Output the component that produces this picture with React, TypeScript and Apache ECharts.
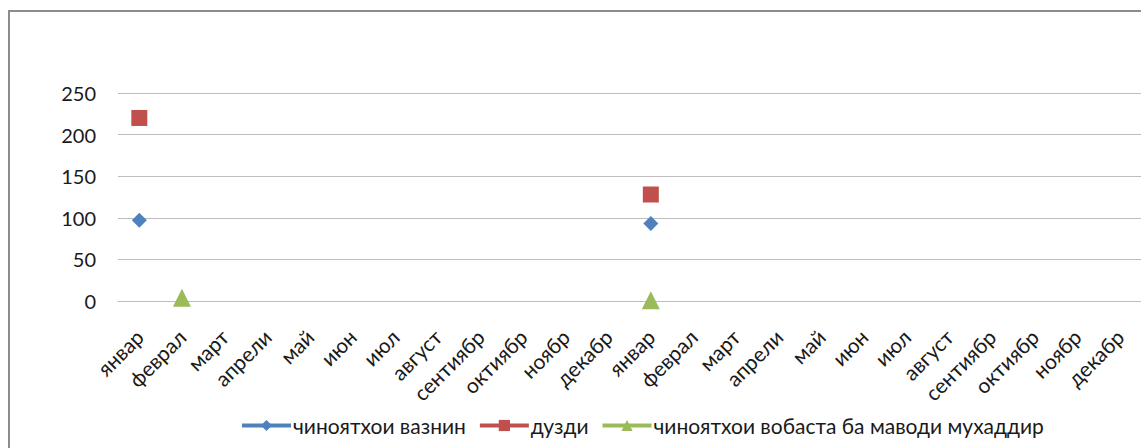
import React, { useEffect, useRef } from "react";
import * as echarts from "echarts";

const months = ["январ", "феврал", "март", "апрели", "май", "июн", "июл", "август", "сентиябр", "октиябр", "ноябр", "декабр"];
const categories = [...months, ...months];
const seriesNames = ["чиноятхои вазнин", "дузди", "чиноятхои вобаста ба маводи мухаддир"];
const seriesColors = ["#4F81BD", "#C0504D", "#9BBB59"];
const seriesSymbols = ["diamond", "rect", "triangle"];
const seriesSymbolSizes = [15, 16, 18];
const heavyCrimes = [97, null, null, null, null, null, null, null, null, null, null, null, 93, null, null, null, null, null, null, null, null, null, null, null];
const theft = [220, null, null, null, null, null, null, null, null, null, null, null, 128, null, null, null, null, null, null, null, null, null, null, null];
const drugCrimes = [null, 4, null, null, null, null, null, null, null, null, null, null, 1, null, null, null, null, null, null, null, null, null, null, null];
const seriesValues = [heavyCrimes, theft, drugCrimes];
const yTicks = { min: 0, max: 250, interval: 50 };

const FONT = "Lato, 'Noto Sans', sans-serif";

export default function App() {
  const ref = useRef<HTMLDivElement>(null);
  useEffect(() => {
    if (!ref.current) return;
    const chart = echarts.init(ref.current, null, { renderer: "svg" });
    chart.setOption({
      animation: false,
      backgroundColor: "#ffffff",
      textStyle: { fontFamily: FONT },
      graphic: [
        {
          type: "rect",
          shape: { x: 9, y: 11, width: 1200, height: 500 },
          style: { fill: "none", stroke: "#8c8c8c", lineWidth: 2 },
          silent: true,
          z: 0,
        },
      ],
      grid: { left: 118, top: 93, width: 1026, height: 208, containLabel: false },
      legend: {
        bottom: 12,
        left: 240,
        padding: 0,
        itemWidth: 49,
        itemHeight: 14,
        itemGap: 12,
        lineStyle: { width: 4 },
        textStyle: { fontFamily: FONT, fontSize: 21, color: "#1a1a1a", padding: [0, 0, 0, -3] },
        data: seriesNames,
      },
      xAxis: {
        type: "category",
        data: categories,
        boundaryGap: true,
        axisLine: { show: true, lineStyle: { color: "#bdbdbd", width: 1 } },
        axisTick: { show: false },
        axisLabel: {
          interval: 0,
          rotate: 45,
          margin: 32,
          fontFamily: FONT,
          fontSize: 21,
          color: "#1a1a1a",
        },
        splitLine: { show: false },
      },
      yAxis: {
        type: "value",
        min: yTicks.min,
        max: yTicks.max,
        interval: yTicks.interval,
        axisLine: { show: false },
        axisTick: { show: false },
        axisLabel: { margin: 22, fontFamily: FONT, fontSize: 20, color: "#1a1a1a" },
        splitLine: { show: true, lineStyle: { color: "#bdbdbd", width: 1 } },
      },
      series: seriesNames.map((name, i) => ({
        name,
        type: "line",
        data: seriesValues[i],
        connectNulls: false,
        symbol: seriesSymbols[i],
        symbolSize: seriesSymbolSizes[i],
        showSymbol: true,
        itemStyle: { color: seriesColors[i] },
        lineStyle: { color: seriesColors[i], width: 4 },
      })),
    });
    return () => chart.dispose();
  }, []);
  return (
    <div
      ref={ref}
      style={{ position: "fixed", left: 0, top: 0, width: 1141, height: 448 }}
    />
  );
}
